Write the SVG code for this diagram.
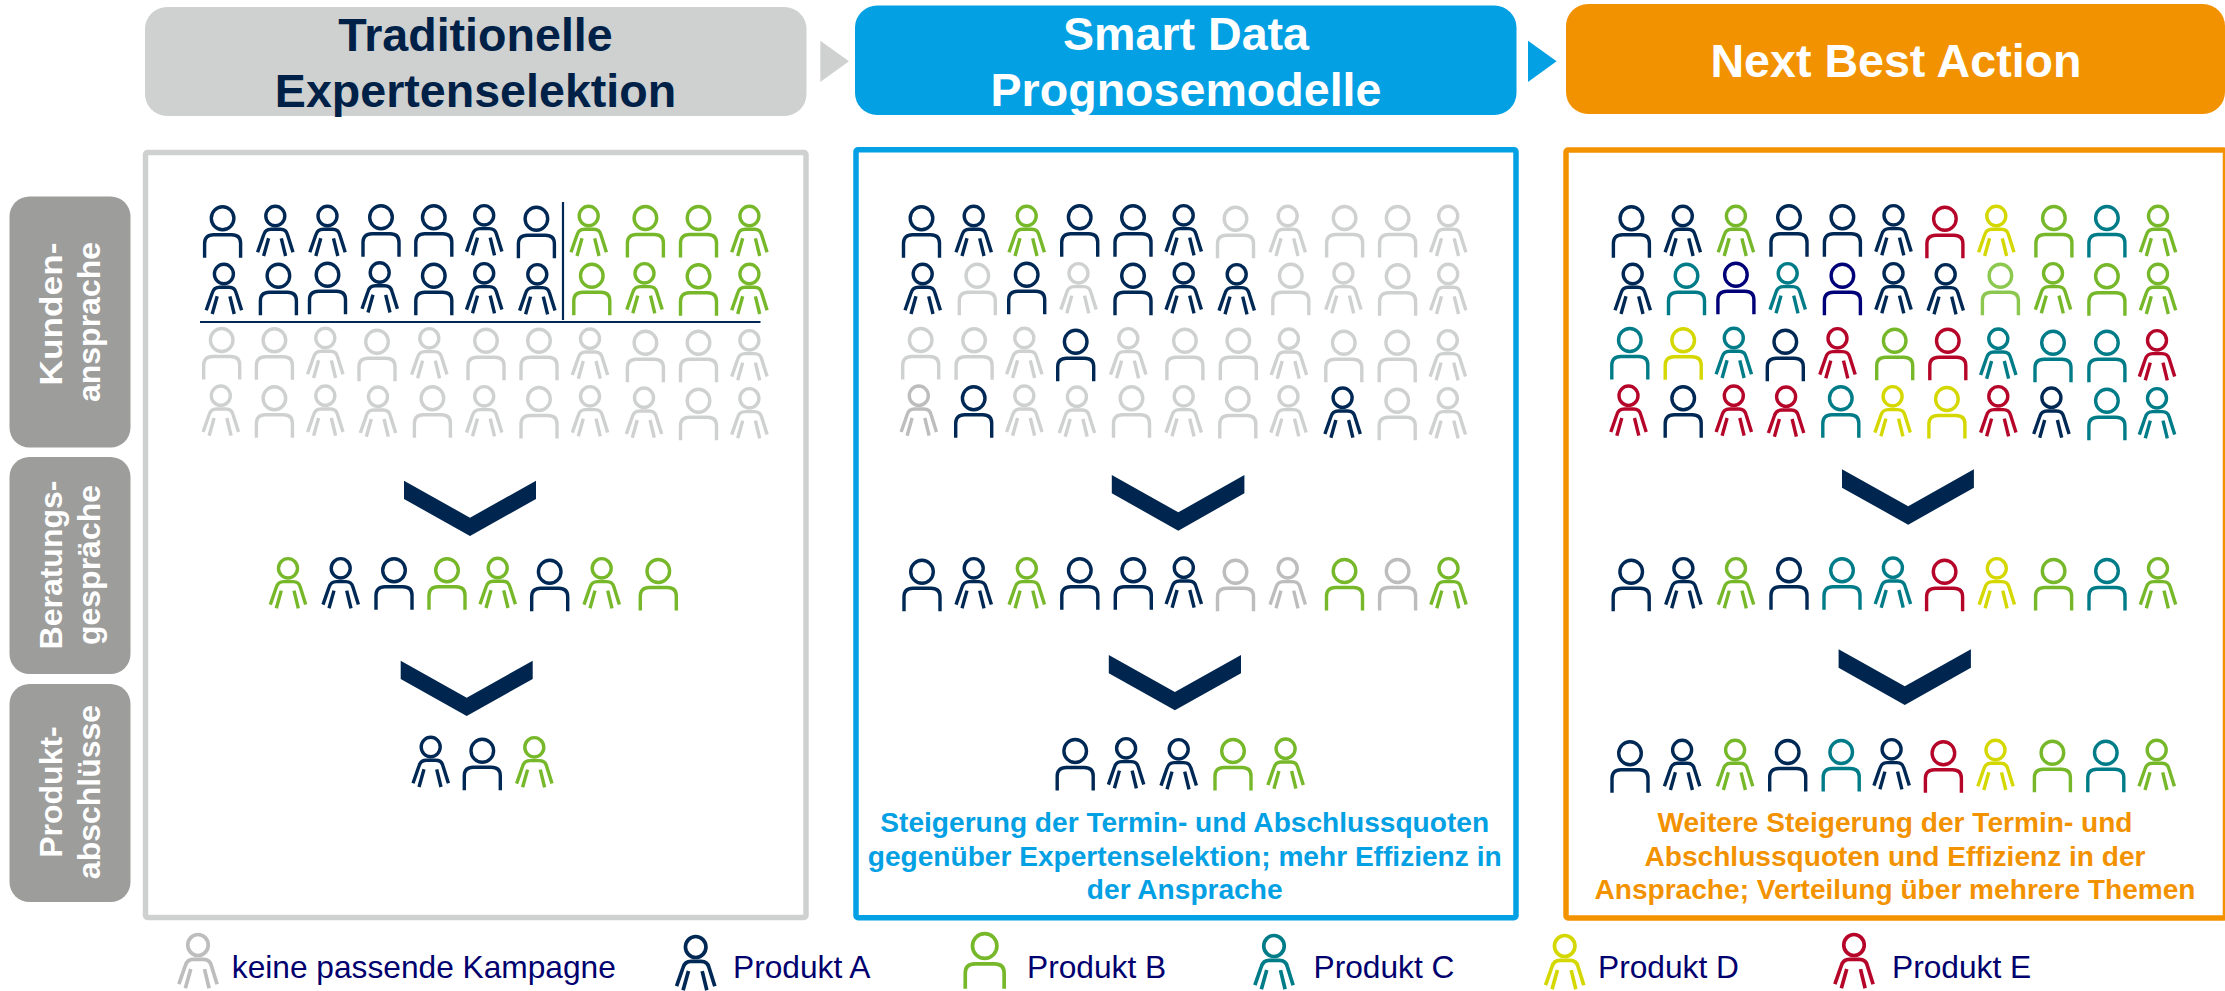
<svg xmlns="http://www.w3.org/2000/svg" width="2225" height="991" viewBox="0 0 2225 991">
<style>
text{font-family:"Liberation Sans",Arial,sans-serif}
.h{font-size:46.6px;font-weight:700;text-anchor:middle;fill:#fff}
.s{font-size:32px;font-weight:700;text-anchor:middle;fill:#fff}
.b{font-size:28.1px;font-weight:700;text-anchor:middle}
.lg{font-size:31.7px;fill:#00006e}
.p{fill:none;stroke-width:3.4}
.n{stroke:#002855}.g{stroke:#76b82a}.x{stroke:#cfd1d0}.t{stroke:#007c88}.y{stroke:#d4d800}.r{stroke:#b5062a}.d{stroke:#000078}.l{stroke:#8cc850}.z{stroke:#bdbdbd}
.c{fill:#00264f}
</style>
<defs>
<g id="a" class="p"><ellipse rx="11.3" ry="11.5"/><path d="M-18 39.5V25Q-18 16.5-9 16.5H9Q18 16.5 18 25V39.5"/></g>
<g id="b" class="p"><ellipse rx="9.5" ry="9.7"/><path d="M-17.7 36.3L-11.7 19Q-10 13.3-4.3 13.3H5Q11 13.3 12.3 19L17.7 36.3M-6.7 22.3L-11.7 40M6 22.3L10.3 40"/></g>
</defs>
<rect width="2225" height="991" fill="#fff"/>
<g id="header-traditionell"><rect x="145" y="7" width="661.5" height="109" rx="22" fill="#cfd1d0"/><text class="h" x="475.5" y="51" style="fill:#002147">Traditionelle</text><text class="h" x="475.5" y="107" style="fill:#002147">Expertenselektion</text></g>
<g id="header-smart"><rect x="855" y="5.5" width="661.5" height="109.5" rx="22" fill="#03a0e4"/><text class="h" x="1186" y="50">Smart Data</text><text class="h" x="1186" y="106">Prognosemodelle</text></g>
<g id="header-nba"><rect x="1566" y="4" width="659" height="110" rx="22" fill="#f39200"/><text class="h" x="1896" y="77">Next Best Action</text></g>
<g id="label-kunden"><rect x="9.5" y="196.5" width="121" height="251" rx="20" fill="#9d9d9c"/><text class="s" textLength="143" lengthAdjust="spacingAndGlyphs" transform="translate(62 314) rotate(-90)">Kunden-</text><text class="s" transform="translate(99.5 322) rotate(-90)">ansprache</text></g>
<g id="label-beratung"><rect x="9.5" y="457" width="121" height="217" rx="20" fill="#9d9d9c"/><text class="s" transform="translate(62 565) rotate(-90)">Beratungs-</text><text class="s" transform="translate(99.5 565) rotate(-90)">gespräche</text></g>
<g id="label-produkt"><rect x="9.5" y="684" width="121" height="218" rx="20" fill="#9d9d9c"/><text class="s" transform="translate(62 792) rotate(-90)">Produkt-</text><text class="s" transform="translate(99.5 792) rotate(-90)">abschlüsse</text></g>
<g id="connectors">
<path fill="#cfd1d0" d="M820.3 40.7L849 61.3L820.3 82Z"/>
<path fill="#03a0e4" d="M1528 40.7L1556.6 61.3L1528 82Z"/>
<path class="c" d="M404 480.7L470 517.7L536 480.7V499L470 536L404 499Z"/>
<path class="c" d="M400.7 660.7L466.7 697.7L532.7 660.7V679L466.7 716L400.7 679Z"/>
<path class="c" d="M1111.8 475L1178.3 512.3L1244.4 475V493.3L1178.3 530.7L1111.8 493.3Z"/>
<path class="c" d="M1108.8 655L1174.9 692L1241 655V673.3L1174.9 710.3L1108.8 673.3Z"/>
<path class="c" d="M1842 469.3L1908.2 506.3L1973.9 469.3V487.7L1908.2 524.7L1842 487.7Z"/>
<path class="c" d="M1838.6 649.3L1904.8 686.3L1970.9 649.3V667.7L1904.8 705L1838.6 667.7Z"/>
</g>
<g id="panel-traditionell">
<rect x="145.5" y="152.5" width="660.5" height="765" rx="2" fill="none" stroke="#cfd1d0" stroke-width="5.5"/>
<path d="M200 322H760.5M563 202V320" fill="none" stroke="#002855" stroke-width="2.2"/>
<use href="#a" x="222.6" y="218.3" class="n"/><use href="#b" x="275.3" y="216" class="n"/><use href="#b" x="327.5" y="216" class="n"/><use href="#a" x="381" y="217.3" class="n"/><use href="#a" x="433.8" y="217.3" class="n"/><use href="#b" x="484.2" y="215.3" class="n"/><use href="#a" x="536.4" y="218.7" class="n"/><use href="#b" x="588.7" y="216" class="g"/><use href="#a" x="645.4" y="218" class="g"/><use href="#a" x="698.5" y="218" class="g"/><use href="#b" x="749.4" y="216" class="g"/>
<use href="#b" x="223.9" y="274" class="n"/><use href="#a" x="278.4" y="275.7" class="n"/><use href="#a" x="327.5" y="274.7" class="n"/><use href="#b" x="379.7" y="272.5" class="n"/><use href="#a" x="433.8" y="275.7" class="n"/><use href="#b" x="484.2" y="273.3" class="n"/><use href="#b" x="537.3" y="274.3" class="n"/><use href="#a" x="591.8" y="275.7" class="g"/><use href="#b" x="644.5" y="273.3" class="g"/><use href="#a" x="698.5" y="276.3" class="g"/><use href="#b" x="749.4" y="274" class="g"/>
<use href="#a" x="221.7" y="340" class="x"/><use href="#a" x="274.4" y="340.3" class="x"/><use href="#b" x="325.3" y="338" class="x"/><use href="#a" x="377" y="341.7" class="x"/><use href="#b" x="429.3" y="338.3" class="x"/><use href="#a" x="486" y="340.7" class="x"/><use href="#a" x="539" y="340.7" class="x"/><use href="#b" x="590" y="338.7" class="x"/><use href="#a" x="645.4" y="342.7" class="x"/><use href="#a" x="698.5" y="342.7" class="x"/><use href="#b" x="749.4" y="340.3" class="x"/>
<use href="#b" x="220.8" y="395.7" class="x"/><use href="#a" x="274.4" y="398.3" class="x"/><use href="#b" x="325.3" y="395.7" class="x"/><use href="#b" x="378" y="396.7" class="x"/><use href="#a" x="432.4" y="398.3" class="x"/><use href="#b" x="484.2" y="396.3" class="x"/><use href="#a" x="539" y="399" class="x"/><use href="#b" x="590" y="396.3" class="x"/><use href="#b" x="644" y="397.7" class="x"/><use href="#a" x="698.5" y="400.7" class="x"/><use href="#b" x="749.4" y="398.3" class="x"/>
<use href="#b" x="288" y="568.3" class="g"/><use href="#b" x="340.7" y="568.3" class="n"/><use href="#a" x="394" y="570.3" class="n"/><use href="#a" x="447" y="570.3" class="g"/><use href="#b" x="497.7" y="568" class="g"/><use href="#a" x="549.7" y="571.7" class="n"/><use href="#b" x="601.7" y="568.3" class="g"/><use href="#a" x="658.3" y="571" class="g"/>
<use href="#b" x="430.7" y="747" class="n"/><use href="#a" x="482.3" y="750.7" class="n"/><use href="#b" x="534.3" y="747.3" class="g"/>
</g>
<g id="panel-smart">
<rect x="856" y="149.7" width="660" height="768" rx="2" fill="none" stroke="#03a0e4" stroke-width="5.5"/>
<use href="#a" x="921.5" y="218.3" class="n"/><use href="#b" x="973.7" y="216" class="n"/><use href="#b" x="1026.7" y="216" class="g"/><use href="#a" x="1079.7" y="217.3" class="n"/><use href="#a" x="1133" y="217.3" class="n"/><use href="#b" x="1183.7" y="215.3" class="n"/><use href="#a" x="1235.5" y="218.7" class="x"/><use href="#b" x="1287.7" y="216" class="x"/><use href="#a" x="1344.6" y="218" class="x"/><use href="#a" x="1397.6" y="218" class="x"/><use href="#b" x="1448.2" y="216" class="x"/>
<use href="#b" x="922.7" y="274" class="n"/><use href="#a" x="977.3" y="275.7" class="x"/><use href="#a" x="1026.7" y="274.7" class="n"/><use href="#b" x="1078.5" y="273.3" class="x"/><use href="#a" x="1133" y="275.7" class="n"/><use href="#b" x="1183.7" y="273.3" class="n"/><use href="#b" x="1236.7" y="274.3" class="n"/><use href="#a" x="1290.8" y="275.7" class="x"/><use href="#b" x="1343.4" y="273.3" class="x"/><use href="#a" x="1397.6" y="276.3" class="x"/><use href="#b" x="1448.2" y="274" class="x"/>
<use href="#a" x="920.7" y="340" class="x"/><use href="#a" x="974.1" y="340.3" class="x"/><use href="#b" x="1024.3" y="338" class="x"/><use href="#a" x="1075.7" y="341.7" class="n"/><use href="#b" x="1128.3" y="338.3" class="x"/><use href="#a" x="1184.9" y="340.7" class="x"/><use href="#a" x="1238.3" y="340.7" class="x"/><use href="#b" x="1288.9" y="338.7" class="x"/><use href="#a" x="1343.8" y="342.7" class="x"/><use href="#a" x="1397.2" y="342.7" class="x"/><use href="#b" x="1447.8" y="340.3" class="x"/>
<use href="#b" x="918.8" y="395.7" class="z"/><use href="#a" x="973.7" y="398.3" class="n"/><use href="#b" x="1024.3" y="395.7" class="x"/><use href="#b" x="1076.9" y="396.7" class="x"/><use href="#a" x="1131.5" y="398.3" class="x"/><use href="#b" x="1183.7" y="396.3" class="x"/><use href="#a" x="1237.8" y="399" class="x"/><use href="#b" x="1288.5" y="396.3" class="x"/><use href="#b" x="1342.6" y="397.7" class="n"/><use href="#a" x="1397.2" y="400.7" class="x"/><use href="#b" x="1447.8" y="398.3" class="x"/>
<use href="#a" x="922" y="571.7" class="n"/><use href="#b" x="973.7" y="568.3" class="n"/><use href="#b" x="1026.8" y="568.3" class="g"/><use href="#a" x="1079.8" y="570.3" class="n"/><use href="#a" x="1133.3" y="570.3" class="n"/><use href="#b" x="1183.8" y="567.7" class="n"/><use href="#a" x="1235.5" y="571.7" class="z"/><use href="#b" x="1287.7" y="568.3" class="z"/><use href="#a" x="1344.5" y="571" class="g"/><use href="#a" x="1397.6" y="571" class="z"/><use href="#b" x="1448.5" y="568.3" class="g"/>
<use href="#a" x="1075.2" y="751" class="n"/><use href="#b" x="1126.1" y="748.3" class="n"/><use href="#b" x="1178.7" y="749.3" class="n"/><use href="#a" x="1233" y="751" class="g"/><use href="#b" x="1285.6" y="748.7" class="g"/>
<g class="b" style="fill:#03a0e4"><text x="1184.7" y="832">Steigerung der Termin- und Abschlussquoten</text><text x="1184.7" y="865.5">gegenüber Expertenselektion; mehr Effizienz in</text><text x="1184.7" y="899">der Ansprache</text></g>
</g>
<g id="panel-nba">
<rect x="1566" y="150" width="659.5" height="768" rx="2" fill="none" stroke="#f39200" stroke-width="5.5"/>
<use href="#a" x="1631.4" y="218.3" class="n"/><use href="#b" x="1682.8" y="216" class="n"/><use href="#b" x="1735.9" y="216" class="g"/><use href="#a" x="1789" y="217.3" class="n"/><use href="#a" x="1842.4" y="217.3" class="n"/><use href="#b" x="1893.5" y="215.3" class="n"/><use href="#a" x="1944.9" y="218.7" class="r"/><use href="#b" x="1996.3" y="216" class="y"/><use href="#a" x="2053.9" y="218" class="g"/><use href="#a" x="2106.9" y="218" class="t"/><use href="#b" x="2158" y="216" class="g"/>
<use href="#b" x="1632.7" y="274" class="n"/><use href="#a" x="1686.5" y="275.7" class="t"/><use href="#a" x="1735.9" y="274.7" class="d"/><use href="#b" x="1787.7" y="273.3" class="t"/><use href="#a" x="1842.4" y="275.7" class="d"/><use href="#b" x="1893.5" y="273.3" class="n"/><use href="#b" x="1945.7" y="274.3" class="n"/><use href="#a" x="2000.4" y="275.7" class="l"/><use href="#b" x="2053" y="273.3" class="g"/><use href="#a" x="2106.9" y="276.3" class="g"/><use href="#b" x="2158" y="274" class="g"/>
<use href="#a" x="1629.8" y="340" class="t"/><use href="#a" x="1683.2" y="340.3" class="y"/><use href="#b" x="1733.8" y="338" class="t"/><use href="#a" x="1785.3" y="341.7" class="n"/><use href="#b" x="1837.5" y="338.3" class="r"/><use href="#a" x="1894.7" y="340.7" class="g"/><use href="#a" x="1947.8" y="340.7" class="r"/><use href="#b" x="1998.3" y="338.7" class="t"/><use href="#a" x="2053" y="342.7" class="t"/><use href="#a" x="2106.9" y="342.7" class="t"/><use href="#b" x="2157" y="340.3" class="r"/>
<use href="#b" x="1628.5" y="395.7" class="r"/><use href="#a" x="1683.2" y="398.3" class="n"/><use href="#b" x="1733.8" y="395.7" class="r"/><use href="#b" x="1786.1" y="396.7" class="r"/><use href="#a" x="1840.8" y="398.3" class="t"/><use href="#b" x="1892.6" y="396.3" class="y"/><use href="#a" x="1946.9" y="399" class="y"/><use href="#b" x="1998.3" y="396.3" class="r"/><use href="#b" x="2051.4" y="397.7" class="n"/><use href="#a" x="2106.9" y="400.7" class="t"/><use href="#b" x="2157" y="398.3" class="t"/>
<use href="#a" x="1631.2" y="571.7" class="n"/><use href="#b" x="1683.4" y="568.3" class="n"/><use href="#b" x="1736" y="568.3" class="g"/><use href="#a" x="1789" y="570.3" class="n"/><use href="#a" x="1842" y="570.3" class="t"/><use href="#b" x="1892.9" y="567.7" class="t"/><use href="#a" x="1944.6" y="571.7" class="r"/><use href="#b" x="1996.8" y="568.3" class="y"/><use href="#a" x="2053.6" y="571" class="g"/><use href="#a" x="2107" y="571" class="t"/><use href="#b" x="2158" y="568.3" class="g"/>
<use href="#a" x="1630" y="753.3" class="n"/><use href="#b" x="1682.1" y="750" class="n"/><use href="#b" x="1735.1" y="750" class="g"/><use href="#a" x="1787.7" y="752" class="n"/><use href="#a" x="1841.2" y="752" class="t"/><use href="#b" x="1891.6" y="749.3" class="n"/><use href="#a" x="1943.4" y="753.3" class="r"/><use href="#b" x="1995.5" y="750" class="y"/><use href="#a" x="2052.4" y="752.7" class="g"/><use href="#a" x="2105.8" y="752.7" class="t"/><use href="#b" x="2156.7" y="750" class="g"/>
<g class="b" style="fill:#f39200"><text x="1895" y="832">Weitere Steigerung der Termin- und</text><text x="1895" y="865.5">Abschlussquoten und Effizienz in der</text><text x="1895" y="899">Ansprache; Verteilung über mehrere Themen</text></g>
</g>
<g id="legend">
<g id="legend-keine"><use href="#b" transform="translate(198 945) scale(1.08)" class="z"/><text class="lg" x="231.8" y="977.5">keine passende Kampagne</text></g>
<g id="legend-a"><use href="#b" transform="translate(695.7 947) scale(1.08)" class="n"/><text class="lg" x="733" y="977.5">Produkt A</text></g>
<g id="legend-b"><use href="#a" transform="translate(984.7 946) scale(1.08)" class="g"/><text class="lg" x="1027" y="977.5">Produkt B</text></g>
<g id="legend-c"><use href="#b" transform="translate(1274 946) scale(1.08)" class="t"/><text class="lg" x="1313.5" y="977.5">Produkt C</text></g>
<g id="legend-d"><use href="#b" transform="translate(1564.7 946) scale(1.08)" class="y"/><text class="lg" x="1598" y="977.5">Produkt D</text></g>
<g id="legend-e"><use href="#b" transform="translate(1854 945) scale(1.08)" class="r"/><text class="lg" x="1892" y="977.5">Produkt E</text></g>
</g>
</svg>
